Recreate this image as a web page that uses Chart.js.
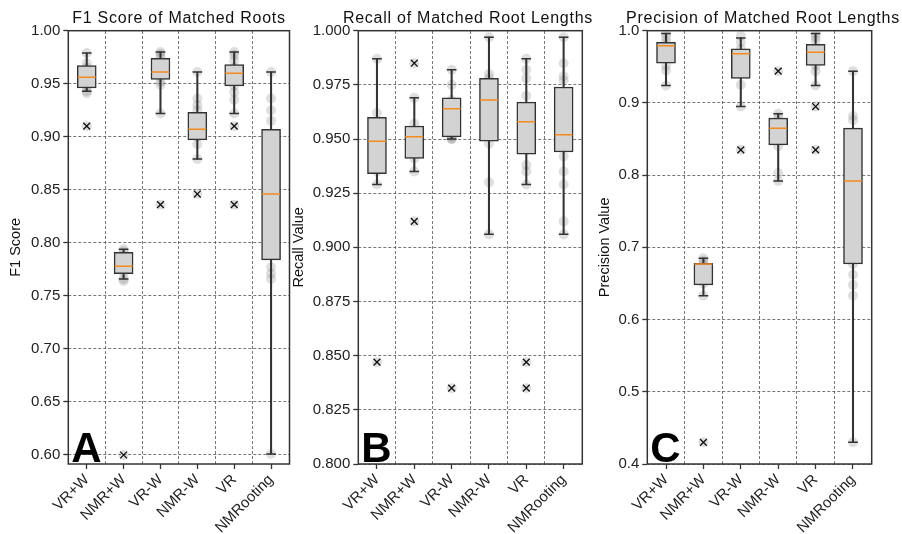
<!DOCTYPE html>
<html>
<head>
<meta charset="utf-8">
<script src="https://cdn.jsdelivr.net/npm/chart.js@4.4.1/dist/chart.umd.min.js"></script>
<style>
    html, body { margin: 0; padding: 0; background: #fff; }
    #wrap { position: relative; width: 902px; height: 534px; overflow: hidden; }
    .panel { position: absolute; top: 0; height: 534px; }
</style>
</head>
<body>
<div id="wrap">
    <div class="panel" style="left:0px;width:300px"><canvas id="chartA" width="300" height="534"></canvas></div>
    <div class="panel" style="left:290px;width:310px"><canvas id="chartB" width="310" height="534"></canvas></div>
    <div class="panel" style="left:595px;width:307px"><canvas id="chartC" width="307" height="534"></canvas></div>
</div>
<script>
// Data
const categories = ['VR+W', 'NMR+W', 'VR-W', 'NMR-W', 'VR', 'NMRooting'];

// F1 score boxes
const f1Low    = [0.943, 0.766, 0.922, 0.879, 0.922, 0.601];
const f1Q1     = [0.946, 0.771, 0.954, 0.897, 0.948, 0.784];
const f1Median = [0.956, 0.778, 0.961, 0.907, 0.960, 0.846];
const f1Q3     = [0.967, 0.791, 0.974, 0.923, 0.968, 0.907];
const f1High   = [0.979, 0.794, 0.980, 0.961, 0.980, 0.961];
const f1Outliers = [[0.910], [0.600], [0.836], [0.846], [0.910, 0.836], []];
const f1Points = [
    [0.979, 0.969, 0.965, 0.960, 0.952, 0.947, 0.943, 0.941, 0.910],
    [0.794, 0.792, 0.785, 0.778, 0.772, 0.766, 0.764, 0.600],
    [0.980, 0.978, 0.975, 0.965, 0.957, 0.952, 0.949, 0.922, 0.836],
    [0.961, 0.936, 0.930, 0.925, 0.910, 0.900, 0.893, 0.879, 0.846],
    [0.980, 0.977, 0.972, 0.965, 0.955, 0.948, 0.942, 0.935, 0.922, 0.910, 0.836],
    [0.961, 0.936, 0.925, 0.915, 0.850, 0.790, 0.777, 0.771, 0.766, 0.601]
];
const f1Ticks = [0.60, 0.65, 0.70, 0.75, 0.80, 0.85, 0.90, 0.95, 1.00];

// Recall boxes
const recallLow    = [0.929, 0.935, 0.950, 0.906, 0.929, 0.906];
const recallQ1     = [0.934, 0.941, 0.951, 0.949, 0.943, 0.944];
const recallMedian = [0.949, 0.951, 0.964, 0.968, 0.958, 0.952];
const recallQ3     = [0.960, 0.956, 0.969, 0.978, 0.967, 0.974];
const recallHigh   = [0.987, 0.969, 0.982, 0.997, 0.987, 0.997];
const recallOutliers = [[0.847], [0.985, 0.912], [0.835], [], [0.847, 0.835], []];
const recallPoints = [
    [0.987, 0.962, 0.957, 0.950, 0.945, 0.935, 0.929, 0.847],
    [0.985, 0.969, 0.957, 0.952, 0.948, 0.941, 0.935, 0.912],
    [0.982, 0.975, 0.968, 0.964, 0.951, 0.950, 0.950, 0.835],
    [0.997, 0.980, 0.978, 0.968, 0.955, 0.948, 0.930, 0.906],
    [0.987, 0.982, 0.978, 0.970, 0.958, 0.945, 0.938, 0.935, 0.929, 0.847, 0.835],
    [0.997, 0.985, 0.979, 0.977, 0.955, 0.942, 0.935, 0.929, 0.912, 0.906]
];
const recallTicks = [0.800, 0.825, 0.850, 0.875, 0.900, 0.925, 0.950, 0.975, 1.000];

// Precision boxes
const precLow    = [0.924, 0.633, 0.895, 0.792, 0.924, 0.430];
const precQ1     = [0.955, 0.648, 0.934, 0.842, 0.952, 0.677];
const precMedian = [0.979, 0.677, 0.968, 0.865, 0.970, 0.792];
const precQ3     = [0.984, 0.678, 0.975, 0.879, 0.981, 0.865];
const precHigh   = [0.996, 0.685, 0.990, 0.885, 0.996, 0.944];
const precOutliers = [[], [0.430], [0.835], [0.944], [0.895, 0.835], []];
const precPoints = [
    [0.996, 0.991, 0.985, 0.979, 0.972, 0.952, 0.945, 0.924],
    [0.685, 0.681, 0.677, 0.665, 0.650, 0.633, 0.430],
    [0.993, 0.984, 0.975, 0.968, 0.945, 0.925, 0.895, 0.835],
    [0.944, 0.885, 0.880, 0.870, 0.860, 0.840, 0.803, 0.792],
    [0.996, 0.991, 0.986, 0.970, 0.952, 0.944, 0.924, 0.895, 0.835],
    [0.944, 0.882, 0.876, 0.677, 0.662, 0.648, 0.633, 0.430]
];
const precTicks = [0.4, 0.5, 0.6, 0.7, 0.8, 0.9, 1.0];

// Styling
const FONT = '"Liberation Sans", Arial, sans-serif';
const DARK = '#333333';
const GRID = '#555555';

// Frame, title and panel letter
const framePlugin = {
    id: 'frame',
    afterDatasetsDraw(chart, args, opts) {
        const { ctx, chartArea: a } = chart;
        ctx.save();
        ctx.strokeStyle = DARK;
        ctx.lineWidth = 1.5;
        ctx.strokeRect(a.left, a.top, a.right - a.left, a.bottom - a.top);

        ctx.fillStyle = '#000';
        ctx.textBaseline = 'alphabetic';
        ctx.font = 'bold 42px ' + FONT;
        ctx.textAlign = 'left';
        ctx.fillText(opts.letter, a.left + 3, a.bottom - 2);

        ctx.fillStyle = '#111';
        ctx.font = '16px ' + FONT;
        ctx.letterSpacing = '0.75px';
        ctx.textAlign = 'center';
        ctx.fillText(opts.title, opts.titleX, 22.7);
        ctx.restore();
    }
};

function toPoints(lists) {
    return lists.flatMap((vals, i) => vals.map(v => ({ x: categories[i], y: v })));
}

function makePanel(id, p) {
    const setTicks = (axis) => { axis.ticks = p.ticks.map(v => ({ value: v })); };
    const ctx = document.getElementById(id).getContext('2d');
    return new Chart(ctx, {
        type: 'bar',
        plugins: [framePlugin],
        data: {
            labels: categories,
            datasets: [
                {
                    type: 'line', showLine: false, order: 0,
                    data: toPoints(p.outliers),
                    pointStyle: 'crossRot', pointRadius: 4.8,
                    pointBorderColor: '#111', pointBorderWidth: 1.3,
                    pointBackgroundColor: 'transparent'
                },
                {
                    type: 'line', showLine: false, order: 1,
                    data: categories.map((c, i) => ({ x: c, y: p.median[i] })),
                    pointStyle: 'line', pointRadius: 9,
                    pointBorderColor: '#f58a1f', pointBorderWidth: 1.5
                },
                {
                    type: 'line', showLine: false, order: 2,
                    data: toPoints(categories.map((c, i) => [p.low[i], p.high[i]])),
                    pointStyle: 'line', pointRadius: 4.8,
                    pointBorderColor: DARK, pointBorderWidth: 1.5
                },
                {
                    type: 'bar', order: 3, grouped: false,
                    data: categories.map((c, i) => [p.q1[i], p.q3[i]]),
                    backgroundColor: '#d3d3d3', borderColor: DARK,
                    borderWidth: 1.5, borderSkipped: false, barThickness: 19
                },
                {
                    type: 'bar', order: 4, grouped: false,
                    data: categories.map((c, i) => [p.low[i], p.high[i]]),
                    backgroundColor: DARK, borderWidth: 0, barThickness: 1.4
                },
                {
                    type: 'line', showLine: false, order: 5,
                    data: toPoints(p.points),
                    pointStyle: 'circle', pointRadius: 5,
                    pointBackgroundColor: 'rgba(110,110,110,0.22)', pointBorderWidth: 0
                }
            ]
        },
        options: {
            responsive: false,
            animation: false,
            events: [],
            layout: { padding: { left: 0, right: p.rightPad, top: 30.7, bottom: 0 } },
            plugins: {
                legend: { display: false },
                tooltip: { enabled: false },
                frame: { letter: p.letter, title: p.title, titleX: p.titleX }
            },
            scales: {
                x: {
                    type: 'category', offset: true, position: 'bottom',
                    grid: { offset: false, drawOnChartArea: false, drawTicks: true, tickLength: 5, tickColor: DARK, tickWidth: 1.3 },
                    border: { display: false },
                    ticks: { minRotation: 45, maxRotation: 45, autoSkip: false, color: '#222', padding: 2, font: { family: FONT, size: 15 } },
                    afterFit(s) { s.height = 70; }
                },
                xg: {
                    type: 'category', offset: true, position: 'top',
                    grid: { offset: true, drawOnChartArea: true, drawTicks: false, color: GRID, lineWidth: 0.8 },
                    border: { display: false, dash: [3, 2] },
                    ticks: { display: false },
                    afterFit(s) { s.height = 0; }
                },
                y: {
                    type: 'linear', position: 'left', min: p.min, max: p.max,
                    grid: { drawOnChartArea: false, drawTicks: true, tickLength: 5, tickColor: DARK, tickWidth: 1.3 },
                    border: { display: false },
                    afterBuildTicks: setTicks,
                    ticks: { color: '#222', padding: 3, font: { family: FONT, size: 15 }, callback: v => v.toFixed(p.decimals) },
                    title: { display: true, text: p.yTitle, color: '#111', font: { family: FONT, size: 14.5 }, padding: { top: p.yTitlePad, bottom: 0 } },
                    afterFit(s) { s.width = p.yWidth; }
                },
                yg: {
                    type: 'linear', position: 'right', min: p.min, max: p.max,
                    grid: { drawOnChartArea: true, drawTicks: false, color: GRID, lineWidth: 0.8 },
                    border: { display: false, dash: [3, 2] },
                    afterBuildTicks: setTicks,
                    ticks: { display: false },
                    afterFit(s) { s.width = 0; }
                }
            }
        }
    });
}

makePanel('chartA', {
    title: 'F1 Score of Matched Roots', yTitle: 'F1 Score', letter: 'A', titleX: 179,
    low: f1Low, q1: f1Q1, median: f1Median, q3: f1Q3, high: f1High,
    outliers: f1Outliers, points: f1Points, ticks: f1Ticks,
    min: 0.5915, max: 1.0, decimals: 2, yWidth: 68.3, rightPad: 8.3, yTitlePad: 7.5
});

makePanel('chartB', {
    title: 'Recall of Matched Root Lengths', yTitle: 'Recall Value', letter: 'B', titleX: 178,
    low: recallLow, q1: recallQ1, median: recallMedian, q3: recallQ3, high: recallHigh,
    outliers: recallOutliers, points: recallPoints, ticks: recallTicks,
    min: 0.8, max: 1.0, decimals: 3, yWidth: 68.3, rightPad: 17.7, yTitlePad: 0
});

makePanel('chartC', {
    title: 'Precision of Matched Root Lengths', yTitle: 'Precision Value', letter: 'C', titleX: 168,
    low: precLow, q1: precQ1, median: precMedian, q3: precQ3, high: precHigh,
    outliers: precOutliers, points: precPoints, ticks: precTicks,
    min: 0.4, max: 1.0, decimals: 1, yWidth: 52.3, rightPad: 30.3, yTitlePad: 1.5
});
</script>
</body>
</html>
